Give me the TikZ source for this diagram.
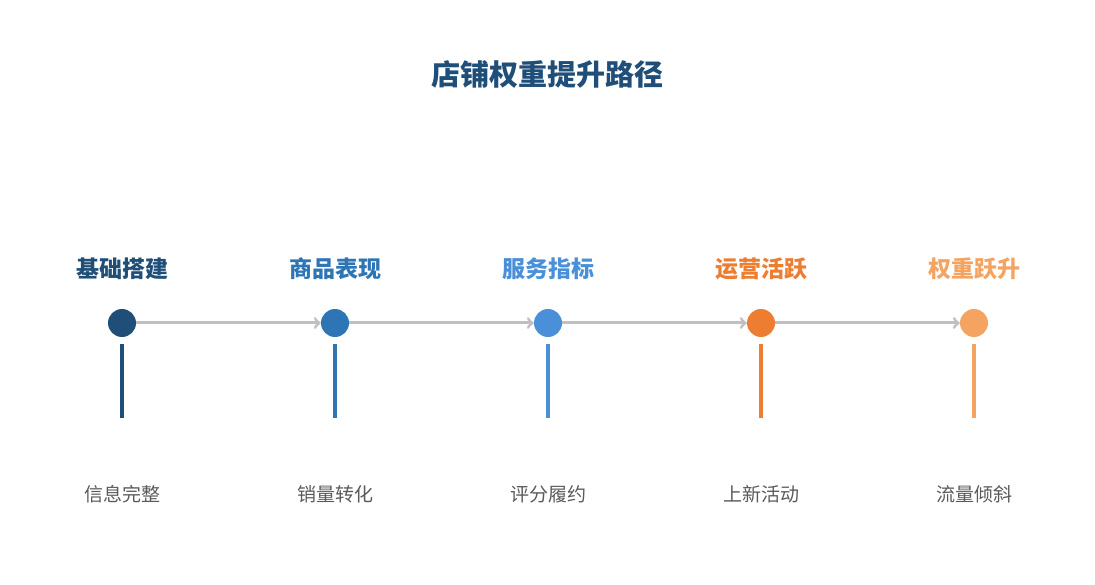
\documentclass[tikz,border=0pt]{standalone}
\usepackage{fontspec}
\setmainfont{Noto Sans CJK SC}
\usepackage{xcolor}
\usepackage{tikz}
\definecolor{jichu}{HTML}{1F4E79}
\definecolor{shangpin}{HTML}{2E75B6}
\definecolor{fuwu}{HTML}{4A90D9}
\definecolor{yunying}{HTML}{ED7D31}
\definecolor{quanzhong}{HTML}{F4A460}
\definecolor{jiantou}{HTML}{C0C0C0}
\definecolor{miaoshu}{HTML}{5A5A5A}
\begin{document}
\begin{tikzpicture}[x=1pt,y=1pt,yscale=-1,xscale=1,
  dian/.style={circle,minimum size=28pt,inner sep=0pt},
  jieduan/.style={font=\fontsize{23}{27}\selectfont\bfseries,inner sep=0pt},
  xijie/.style={font=\fontsize{19}{23}\selectfont,text=miaoshu,inner sep=0pt},
  shuxian/.style={line width=3.5pt},
  lianxian/.style={->,line width=3pt,draw=jiantou}]
\useasboundingbox (0,0) rectangle (1095,585);
%标题
\node [font=\fontsize{29}{33}\selectfont\bfseries,text=jichu,inner sep=0pt] (biaoti) at (547,74) {店铺权重提升路径};
%阶段名称
\node [jieduan,text=jichu] (m1) at (122,269) {基础搭建};
\node [jieduan,text=shangpin] (m2) at (335,269) {商品表现};
\node [jieduan,text=fuwu] (m3) at (548,269) {服务指标};
\node [jieduan,text=yunying] (m4) at (761,269) {运营活跃};
\node [jieduan,text=quanzhong] (m5) at (974,269) {权重跃升};
%圆点
\node [dian] (c1) at (122,323) {};
\node [dian] (c2) at (335,323) {};
\node [dian] (c3) at (548,323) {};
\node [dian] (c4) at (761,323) {};
\node [dian] (c5) at (974,323) {};
%箭头
\draw [lianxian] (c1) -- (c2);
\draw [lianxian] (c2) -- (c3);
\draw [lianxian] (c3) -- (c4);
\draw [lianxian] (c4) -- (c5);
\fill [jichu] (c1) circle (14);
\fill [shangpin] (c2) circle (14);
\fill [fuwu] (c3) circle (14);
\fill [yunying] (c4) circle (14);
\fill [quanzhong] (c5) circle (14);
%竖线
\coordinate (s1) at (122,344); \coordinate (e1) at (122,418);
\coordinate (s2) at (335,344); \coordinate (e2) at (335,418);
\coordinate (s3) at (548,344); \coordinate (e3) at (548,418);
\coordinate (s4) at (761,344); \coordinate (e4) at (761,418);
\coordinate (s5) at (974,344); \coordinate (e5) at (974,418);
\draw [shuxian,jichu] (s1) -- (e1);
\draw [shuxian,shangpin] (s2) -- (e2);
\draw [shuxian,fuwu] (s3) -- (e3);
\draw [shuxian,yunying] (s4) -- (e4);
\draw [shuxian,quanzhong] (s5) -- (e5);
%说明
\node [xijie] (d1) at (122,494) {信息完整};
\node [xijie] (d2) at (335,494) {销量转化};
\node [xijie] (d3) at (548,494) {评分履约};
\node [xijie] (d4) at (761,494) {上新活动};
\node [xijie] (d5) at (974,494) {流量倾斜};
\end{tikzpicture}
\end{document}
